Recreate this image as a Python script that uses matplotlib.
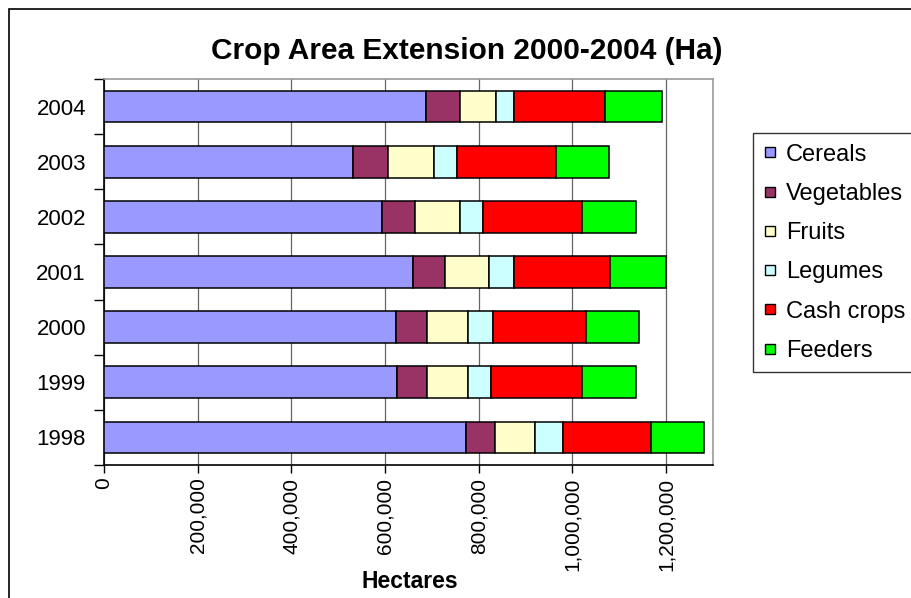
import matplotlib.pyplot as plt
from matplotlib.lines import Line2D
from matplotlib.patches import Rectangle
from matplotlib.ticker import FuncFormatter
import numpy as np

plt.rcParams['font.family'] = ['Liberation Sans', 'DejaVu Sans']

# values (hectares)
years = ['1998', '1999', '2000', '2001', '2002', '2003', '2004']
crops = ['Cereals', 'Vegetables', 'Fruits', 'Legumes', 'Cash crops', 'Feeders']
cereals = [772200, 626200, 622800, 659100, 593300, 532500, 686900]
vegetables = [61600, 62400, 65800, 69200, 70000, 73400, 73500]
fruits = [86100, 88600, 88600, 92800, 97100, 98700, 76700]
legumes = [59900, 49000, 52300, 53200, 48000, 48200, 37200]
cash_crops = [188200, 194900, 199200, 206700, 212700, 211800, 195800]
feeders = [113000, 114800, 113900, 119000, 113900, 113900, 121500]
colors = ['#9999FF', '#993366', '#FFFFCC', '#CCFFFF', '#FF0000', '#00FF00']

series = [cereals, vegetables, fruits, legumes, cash_crops, feeders]

fig = plt.figure(figsize=(9.11, 5.98), dpi=100)
ax = fig.add_axes([104/911, 1-465/598, (713-104)/911, (465-79)/598])

y = np.arange(len(years))
left = np.zeros(len(years))
for vals, name, c in zip(series, crops, colors):
    ax.barh(y, vals, height=0.575, left=left, color=c, edgecolor='black',
            linewidth=1.1, label=name, zorder=3)
    left += np.array(vals)

ax.set_xlim(0, 1300000)
ax.set_ylim(-0.5, len(years)-0.5)
ax.set_xticks(np.arange(0, 1300001, 200000))
ax.xaxis.set_major_formatter(FuncFormatter(lambda v, p: f'{int(v):,}'))
ax.tick_params(axis='x', labelrotation=90, labelsize=15, length=6, width=1, pad=3)
ax.set_yticks(y)
ax.set_yticklabels(years)
ax.set_yticks(np.arange(-0.5, len(years)), minor=True)
ax.tick_params(axis='y', which='major', length=0, labelsize=16, pad=13)
ax.tick_params(axis='y', which='minor', length=7, width=1)
ax.grid(axis='x', color='#666666', linewidth=0.9, zorder=0)

ax.spines['top'].set_color('#999999')
ax.spines['right'].set_color('#999999')
ax.spines['left'].set_color('black')
ax.spines['bottom'].set_color('black')
for s in ax.spines.values():
    s.set_linewidth(1.2)

fig.text(410/911, 1-581/598, 'Hectares', fontsize=16.5, fontweight='bold',
         ha='center', va='center')
fig.text(467/911, 1-51/598, 'Crop Area Extension 2000-2004 (Ha)', fontsize=21.5,
         fontweight='bold', ha='center', va='center')

handles = [Line2D([], [], marker='s', linestyle='', markersize=6.5,
                  markerfacecolor=c, markeredgecolor='black', markeredgewidth=1)
           for c in colors]
leg = fig.legend(handles, crops, loc='upper left', bbox_to_anchor=(753/911, 1-133/598),
                 fontsize=17, frameon=True, fancybox=False, edgecolor='black',
                 borderaxespad=0, handlelength=0.55, handletextpad=0.4,
                 labelspacing=0.73, borderpad=0.45)
leg.get_frame().set_linewidth(1)

# chart area border, cut off at the right and bottom like the original
fig.patches.append(Rectangle((9/911, -0.1), 1.1, 1-9/598+0.1, transform=fig.transFigure,
                             fill=False, edgecolor='black', linewidth=1.2))

fig.savefig('out.png', dpi=100)
